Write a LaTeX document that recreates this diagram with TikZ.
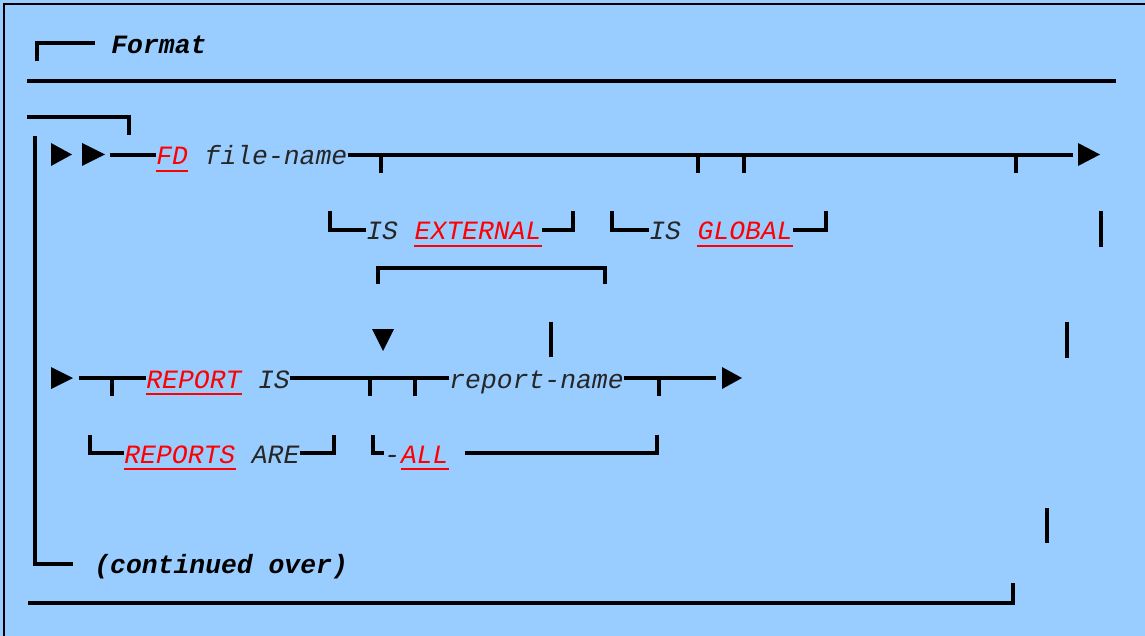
\documentclass[tikz,border=0pt]{standalone}
\usepackage{fontspec}
\setmonofont{Liberation Mono}
\usetikzlibrary{positioning}
\definecolor{panelblue}{HTML}{99CCFF}
\definecolor{kwred}{HTML}{FF0000}

\begin{document}
\begin{tikzpicture}[x=0.5pt, y=-0.5pt,
    ln/.style={line width=1.6pt},
    txt/.style={font=\ttfamily\itshape\fontsize{13.2}{15}\selectfont, text=black!85, inner sep=0pt, text height=10pt, text depth=0pt},
    kw/.style={txt, text=kwred},
    bold/.style={font=\ttfamily\bfseries\itshape\fontsize{13.2}{15}\selectfont, inner sep=0pt},
    uline/.style={kwred, line width=0.6pt}]
    % Panel
    \useasboundingbox (0,0) rectangle (1145,636);
    \fill[panelblue] (0,0) rectangle (1145,636);
    \draw[line width=0.8pt] (4,636) -- (4,4) -- (1145,4);

    % Header
    \node[bold, anchor=base west] (fmt) at (111,54) {Format};
    \draw[ln] (37,61) |- (95,43);
    \draw[ln] (27,81) -- (1116,81);
    \draw[ln] (27,117) -| (129,135);
    \draw[ln] (35,136) |- (73,564);

    % FD line
    \node[kw, anchor=base west] (fd) at (156,165) {FD};
    \node[txt, base right=7.9pt of fd] (fname) {file-name};
    \fill (51,143) -- (72,154.5) -- (51,166) -- cycle;
    \fill (82,143) -- (105,154.5) -- (82,166) -- cycle;
    \draw[ln] (110,155) -- (fd.west);
    \draw[ln] (fname.east) -- (1073,155);
    \fill (1078,143) -- (1100,154.5) -- (1078,166) -- cycle;
    \foreach \x in {381,698,744,1016}
        \draw[ln] (\x,155) -- (\x,173);

    % optional clauses
    \node[txt, anchor=base west] (is1) at (366,240) {IS};
    \node[kw, base right=7.9pt of is1] (ext) {EXTERNAL};
    \node[txt, anchor=base west] (is2) at (649,240) {IS};
    \node[kw, base right=7.9pt of is2] (glob) {GLOBAL};
    \draw[ln] (330,211) |- (is1.west);
    \draw[ln] (ext.east) -| (573,211);
    \draw[ln] (612,211) |- (is2.west);
    \draw[ln] (glob.east) -| (826,211);
    \draw[ln] (1101,211) -- (1101,247);

    % repeat bracket
    \draw[ln] (378,284) |- (605,268) -- (605,284);
    \fill (372,329) -- (394,329) -- (383,351) -- cycle;
    \draw[ln] (551,322) -- (551,357);
    \draw[ln] (1067,322) -- (1067,358);

    % REPORT line
    \node[kw, anchor=base west] (rep) at (146,388) {REPORT};
    \node[txt, base right=7.9pt of rep] (is3) {IS};
    \node[txt, anchor=base west] (rname) at (449,388) {report-name};
    \fill (51,367) -- (73,378) -- (51,389) -- cycle;
    \draw[ln] (79,378) -- (rep.west);
    \draw[ln] (is3.east) -- (rname.west);
    \draw[ln] (rname.east) -- (716,378);
    \fill (722,367) -- (742,378) -- (722,389) -- cycle;
    \foreach \x in {112,370,415,659}
        \draw[ln] (\x,378) -- (\x,396);

    \node[kw, anchor=base west] (reps) at (124,463) {REPORTS};
    \node[txt, base right=7.9pt of reps] (are) {ARE};
    \node[txt, anchor=base west] (dash) at (384,463) {-};
    \node[kw, base right=0pt of dash] (all) {ALL};
    \draw[ln] (90,435) |- (reps.west);
    \draw[ln] (are.east) -| (334,435);
    \draw[ln] (373,435) |- (dash.west);
    \draw[ln] ([xshift=8pt]all.east) -| (657,435);

    % keyword underlines
    \foreach \k in {fd,ext,glob,rep,reps,all}
        \draw[uline] ([yshift=-3pt]\k.base west) -- ([yshift=-3pt]\k.base east);

    % Footer
    \draw[ln] (1047,508) -- (1047,543);
    \node[bold, anchor=base west] (cont) at (94,573) {(continued over)};
    \draw[ln] (28,603) -| (1013,583);
\end{tikzpicture}
\end{document}
